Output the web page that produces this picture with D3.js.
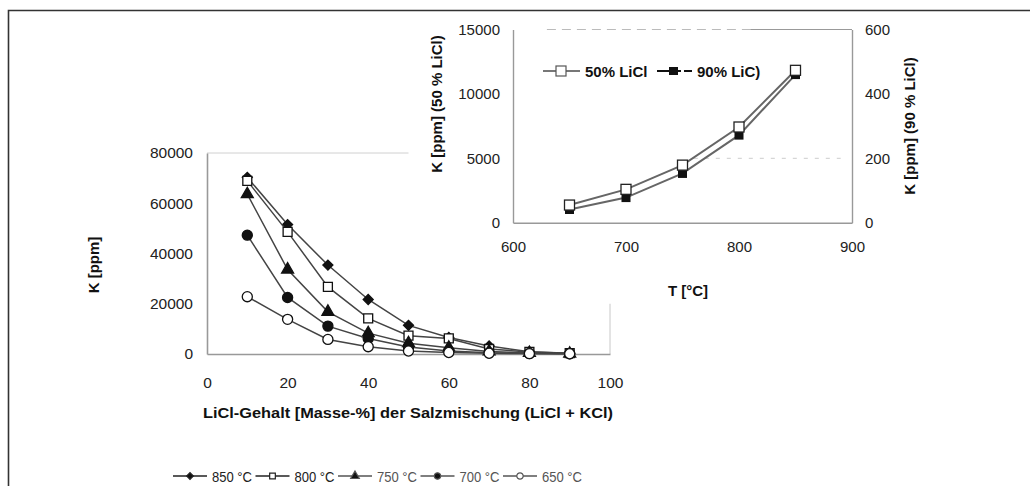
<!DOCTYPE html>
<html>
<head>
<meta charset="utf-8">
<script src="https://cdn.jsdelivr.net/npm/d3@7"></script>
<style>
	body { margin: 0; background: #fff; }
	svg { display: block; font-family: "Liberation Sans", Arial, sans-serif; }
</style>
</head>
<body>
<div id="chart"></div>
<script>
// main chart data (LiCl content vs K)
var licl = [10, 20, 30, 40, 50, 60, 70, 80, 90];
var k850 = [70300, 51500, 35400, 21700, 11400, 6600, 3200, 900, 300];
var k800 = [68900, 48600, 26700, 14200, 7300, 6200, 2000, 800, 300];
var k750 = [63600, 33600, 16800, 8300, 4300, 2500, 1000, 400, 150];
var k700 = [47300, 22500, 11100, 6200, 2800, 1200, 500, 200, 100];
var k650 = [22800, 13800, 5800, 2900, 1200, 600, 300, 150, 100];
var seriesNames = ["850 °C", "800 °C", "750 °C", "700 °C", "650 °C"];
var mainXTicks = [0, 20, 40, 60, 80, 100];
var mainYTicks = [0, 20000, 40000, 60000, 80000];

// inset data (temperature vs K)
var temps = [650, 700, 750, 800, 850];
var k50 = [1370, 2590, 4470, 7430, 11830];
var k90 = [41, 78, 153, 272, 460];
var insetNames = ["50% LiCl", "90% LiC)"];
var insetXTicks = [600, 700, 800, 900];
var insetLeftTicks = [0, 5000, 10000, 15000];
var insetRightTicks = [0, 200, 400, 600];

var width = 1030, height = 486;
var series = [
	{name: seriesNames[0], values: k850, marker: "diamond", fill: "#111", color: "#222"},
	{name: seriesNames[1], values: k800, marker: "square", fill: "#fff", color: "#222"},
	{name: seriesNames[2], values: k750, marker: "triangle", fill: "#111", color: "#555"},
	{name: seriesNames[3], values: k700, marker: "circle", fill: "#111", color: "#555"},
	{name: seriesNames[4], values: k650, marker: "circle", fill: "#fff", color: "#555"}
];

var svg = d3.select("#chart").append("svg")
		.attr("width", width)
		.attr("height", height);

// outer frame (runs off the right and bottom edge)
svg.append("path")
		.attr("d", "M8.5,486V10.5H1030")
		.attr("fill", "none")
		.attr("stroke", "#333")
		.attr("stroke-width", 1.6);

// diamond = square turned by 45 deg, like the excel marker
function symbolFor(type, size) {
	var t = {diamond: d3.symbolSquare, square: d3.symbolSquare, triangle: d3.symbolTriangle, circle: d3.symbolCircle}[type];
	return d3.symbol().type(t).size(size)();
}
function markerTransform(type, px, py) {
	return "translate(" + px + "," + py + ")" + (type == "diamond" ? " rotate(45)" : "");
}

// Main chart
// ------------------------------
var x = d3.scaleLinear().domain([0, 100]).range([207, 610]);
var y = d3.scaleLinear().domain([0, 80000]).range([354, 153]);

var main = svg.append("g");

main.append("line")
		.attr("x1", x(0)).attr("x2", x(50))
		.attr("y1", y(80000)).attr("y2", y(80000))
		.attr("stroke", "#d0d0d0");
main.append("line")
		.attr("x1", x(100)).attr("x2", x(100))
		.attr("y1", y(20000)).attr("y2", y(0))
		.attr("stroke", "#c8c8c8");

var xAxis = main.append("g")
		.attr("transform", "translate(0," + y(0) + ")")
		.call(d3.axisBottom(x).tickValues(mainXTicks).tickSize(0).tickPadding(23).tickFormat(d3.format("d")));
var yAxis = main.append("g")
		.attr("transform", "translate(" + x(0) + ",0)")
		.call(d3.axisLeft(y).tickValues(mainYTicks).tickSize(0).tickPadding(14).tickFormat(d3.format("d")));

[xAxis, yAxis].forEach(function(a) {
	a.select(".domain").attr("stroke", "#999").attr("stroke-width", 1.6);
	a.selectAll("text").attr("font-size", 15.5).attr("fill", "#222").attr("font-family", "Liberation Sans, Arial, sans-serif");
});

var line = d3.line()
		.x(function(d, i) { return x(licl[i]); })
		.y(function(d) { return y(d); });

series.forEach(function(s) {
	var g = main.append("g");
	g.append("path")
			.datum(s.values)
			.attr("d", line)
			.attr("fill", "none")
			.attr("stroke", "#444")
			.attr("stroke-width", 1.5);
	g.selectAll("path.mk")
			.data(s.values)
			.enter().append("path")
			.attr("class", "mk")
			.attr("d", symbolFor(s.marker, s.marker == "triangle" ? 62 : (s.marker == "diamond" ? 50 : 80)))
			.attr("transform", function(d, i) { return markerTransform(s.marker, x(licl[i]), y(d)); })
			.attr("fill", s.fill)
			.attr("stroke", "#111")
			.attr("stroke-width", 1.3);
});

main.append("text")
		.attr("transform", "translate(99,265) rotate(-90)")
		.attr("text-anchor", "middle")
		.attr("font-size", 15)
		.attr("font-weight", "bold")
		.attr("fill", "#111")
		.text("K [ppm]");

main.append("text")
		.attr("x", 408)
		.attr("y", 418)
		.attr("text-anchor", "middle")
		.attr("font-size", 15.5)
		.attr("font-weight", "bold")
		.attr("textLength", 410)
		.attr("lengthAdjust", "spacingAndGlyphs")
		.attr("fill", "#111")
		.text("LiCl-Gehalt [Masse-%] der Salzmischung (LiCl + KCl)");

// bottom legend
var legend = main.append("g").attr("transform", "translate(173,476)");
series.forEach(function(s, i) {
	var item = legend.append("g").attr("transform", "translate(" + (i * 82.5) + ",0)");
	item.append("line")
			.attr("x1", 0).attr("x2", 34)
			.attr("stroke", s.color)
			.attr("stroke-width", 1.5);
	item.append("path")
			.attr("d", symbolFor(s.marker, s.marker == "diamond" ? 22 : 32))
			.attr("transform", markerTransform(s.marker, 17, 0))
			.attr("fill", s.fill)
			.attr("stroke", s.color)
			.attr("stroke-width", 1.2);
	item.append("text")
			.attr("x", 39)
			.attr("y", 5.5)
			.attr("font-size", 15.5)
			.attr("textLength", 40)
			.attr("lengthAdjust", "spacingAndGlyphs")
			.attr("fill", s.color)
			.text(s.name);
});

// Inset chart
// ------------------------------
var xT = d3.scaleLinear().domain([600, 900]).range([513, 852]);
var yL = d3.scaleLinear().domain([0, 15000]).range([222.7, 29.5]);
var yR = d3.scaleLinear().domain([0, 600]).range([222.7, 29.5]);

var inset = svg.append("g");

inset.append("line")
		.attr("x1", xT(630)).attr("x2", xT(810))
		.attr("y1", yL(15000)).attr("y2", yL(15000))
		.attr("stroke", "#bbb")
		.attr("stroke-dasharray", "9,6");
inset.append("line")
		.attr("x1", xT(810)).attr("x2", xT(900))
		.attr("y1", yL(15000)).attr("y2", yL(15000))
		.attr("stroke", "#999");
inset.append("line")
		.attr("x1", xT(760)).attr("x2", xT(890))
		.attr("y1", yL(5000)).attr("y2", yL(5000))
		.attr("stroke", "#ccc")
		.attr("stroke-dasharray", "4,7");

var tAxis = inset.append("g")
		.attr("transform", "translate(0," + yL(0) + ")")
		.call(d3.axisBottom(xT).tickValues(insetXTicks).tickSize(0).tickPadding(19));
var lAxis = inset.append("g")
		.attr("transform", "translate(" + xT(600) + ",0)")
		.call(d3.axisLeft(yL).tickValues(insetLeftTicks).tickSize(0).tickPadding(13).tickFormat(d3.format("d")));
var rAxis = inset.append("g")
		.attr("transform", "translate(" + xT(900) + ",0)")
		.call(d3.axisRight(yR).tickValues(insetRightTicks).tickSize(0).tickPadding(13));

[tAxis, lAxis, rAxis].forEach(function(a) {
	a.select(".domain").attr("stroke", "#999").attr("stroke-width", 1.4);
	a.selectAll("text").attr("font-size", 15).attr("fill", "#222").attr("font-family", "Liberation Sans, Arial, sans-serif");
});

var line50 = d3.line()
		.x(function(d, i) { return xT(temps[i]); })
		.y(function(d) { return yL(d); });
var line90 = d3.line()
		.x(function(d, i) { return xT(temps[i]); })
		.y(function(d) { return yR(d); });

inset.append("path")
		.datum(k90)
		.attr("d", line90)
		.attr("fill", "none")
		.attr("stroke", "#666")
		.attr("stroke-width", 2);
inset.selectAll("rect.k90")
		.data(k90)
		.enter().append("rect")
		.attr("class", "k90")
		.attr("x", function(d, i) { return xT(temps[i]) - 4.5; })
		.attr("y", function(d) { return yR(d) - 4.5; })
		.attr("width", 9).attr("height", 9)
		.attr("fill", "#111");

inset.append("path")
		.datum(k50)
		.attr("d", line50)
		.attr("fill", "none")
		.attr("stroke", "#666")
		.attr("stroke-width", 2);
inset.selectAll("rect.k50")
		.data(k50)
		.enter().append("rect")
		.attr("class", "k50")
		.attr("x", function(d, i) { return xT(temps[i]) - 5; })
		.attr("y", function(d) { return yL(d) - 5; })
		.attr("width", 10).attr("height", 10)
		.attr("fill", "#fff")
		.attr("stroke", "#222")
		.attr("stroke-width", 1.3);

// inset legend
var lg = inset.append("g").attr("transform", "translate(543,71)");
lg.append("line").attr("x1", 0).attr("x2", 37).attr("stroke", "#777").attr("stroke-width", 2);
lg.append("rect").attr("x", 13).attr("y", -5).attr("width", 10).attr("height", 10)
		.attr("fill", "#fff").attr("stroke", "#555").attr("stroke-width", 1.2);
lg.append("text").attr("x", 42).attr("y", 5.5)
		.attr("font-size", 15).attr("font-weight", "bold").attr("fill", "#111")
		.text(insetNames[0]);
lg.append("line").attr("x1", 114).attr("x2", 149).attr("stroke", "#111").attr("stroke-width", 2)
		.attr("stroke-dasharray", "24,3,8");
lg.append("rect").attr("x", 126).attr("y", -4).attr("width", 9).attr("height", 8).attr("fill", "#111");
lg.append("text").attr("x", 154).attr("y", 5.5)
		.attr("font-size", 15).attr("font-weight", "bold").attr("fill", "#111")
		.text(insetNames[1]);

inset.append("text")
		.attr("transform", "translate(442,104) rotate(-90)")
		.attr("text-anchor", "middle")
		.attr("font-size", 15)
		.attr("font-weight", "bold")
		.attr("fill", "#111")
		.text("K [ppm] (50 % LiCl)");
inset.append("text")
		.attr("transform", "translate(915,126) rotate(-90)")
		.attr("text-anchor", "middle")
		.attr("font-size", 15)
		.attr("font-weight", "bold")
		.attr("fill", "#111")
		.text("K [ppm] (90 % LiCl)");
inset.append("text")
		.attr("x", 688)
		.attr("y", 296)
		.attr("text-anchor", "middle")
		.attr("font-size", 15)
		.attr("font-weight", "bold")
		.attr("fill", "#111")
		.text("T [°C]");
</script>
</body>
</html>
